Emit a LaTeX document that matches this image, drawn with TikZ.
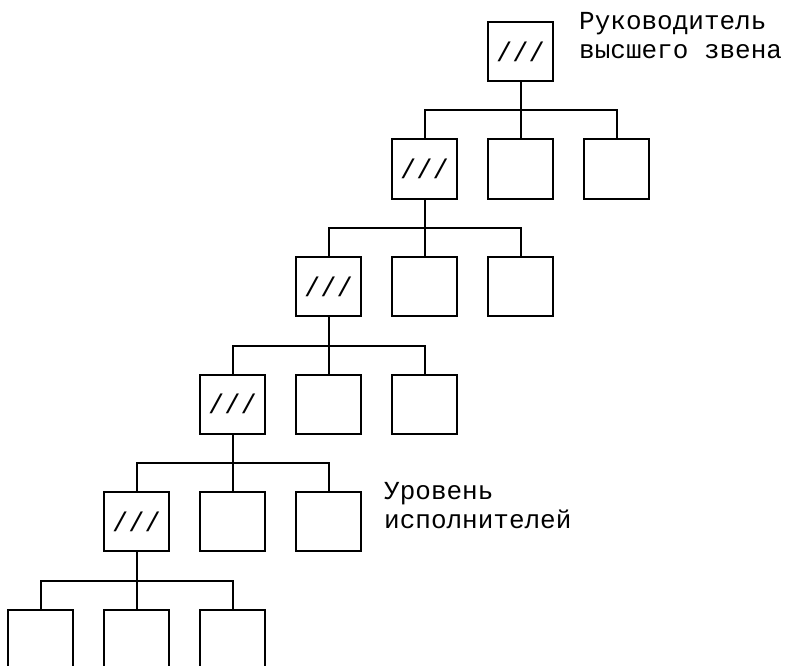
\documentclass[tikz,border=0pt]{standalone}
\usepackage{fontspec}
\newfontfamily\monofam{Liberation Mono}
\begin{document}
\begin{tikzpicture}[x=1pt,y=-1pt,
  unit/.style={draw, line width=2pt, minimum width=65pt, minimum height=59pt,
    inner sep=0pt, font=\monofam\fontsize{27}{29}\selectfont},
  link/.style={line width=2pt},
  caption/.style={font=\monofam\fontsize{26}{29}\selectfont, align=left,
    anchor=north west, inner sep=0pt}]
\useasboundingbox (0,0) rectangle (787,666);
\clip (0,0) rectangle (787,666);
% top manager
\node[unit] (n0a) at (520.5,51.5) {///};
% each lower level: a head box (a) and two subordinate boxes (b, c)
\foreach \L in {1,...,5}{
  \pgfmathsetmacro\hx{520.5-96*\L}
  \pgfmathsetmacro\hy{51.5+117.5*\L}
  \ifnum\L<5
    \node[unit] (n\L a) at (\hx,\hy) {///};
  \else
    \node[unit] (n\L a) at (\hx,\hy) {};
  \fi
  \node[unit] (n\L b) at (\hx+96,\hy) {};
  \node[unit] (n\L c) at (\hx+192,\hy) {};
}
% connectors from each head to its three subordinates
\foreach \L in {0,...,4}{
  \pgfmathtruncatemacro\M{\L+1}
  \pgfmathsetmacro\by{51.5+117.5*\L+59}
  \coordinate (bus\L) at (n\L a.center |- 0,\by);
  \draw[link] (n\L a.south) -- (n\M b.north);
  \draw[link] (n\M a.north) |- (bus\L) -| (n\M c.north);
}
\node[caption] (top) at (579,12) {Руководитель\\высшего звена};
\node[caption] (low) at (384,482) {Уровень\\исполнителей};
\end{tikzpicture}
\end{document}
